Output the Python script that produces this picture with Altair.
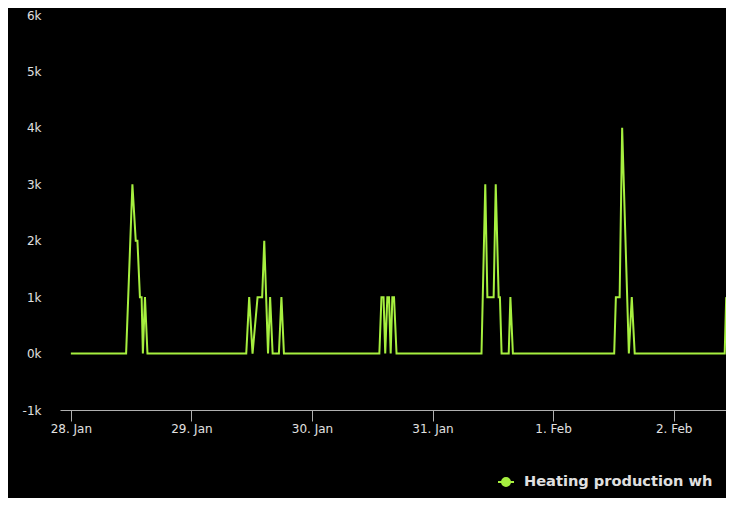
import altair as alt
import pandas as pd

# Timestamps (UTC) and heating production values (Wh)
times = [
    "2019-01-28T00:00", "2019-01-28T11:00", "2019-01-28T12:15", "2019-01-28T12:55",
    "2019-01-28T13:15", "2019-01-28T13:45", "2019-01-28T14:05", "2019-01-28T14:20",
    "2019-01-28T14:45", "2019-01-28T15:15",
    "2019-01-29T10:55", "2019-01-29T11:30", "2019-01-29T12:10", "2019-01-29T13:10",
    "2019-01-29T14:05", "2019-01-29T14:30", "2019-01-29T15:15", "2019-01-29T15:40",
    "2019-01-29T16:10", "2019-01-29T17:25", "2019-01-29T17:55", "2019-01-29T18:25",
    "2019-01-30T13:25", "2019-01-30T13:50", "2019-01-30T14:15", "2019-01-30T14:35",
    "2019-01-30T15:00", "2019-01-30T15:20", "2019-01-30T15:40", "2019-01-30T16:00",
    "2019-01-30T16:20", "2019-01-30T16:50",
    "2019-01-31T09:45", "2019-01-31T10:30", "2019-01-31T10:55", "2019-01-31T12:10",
    "2019-01-31T12:35", "2019-01-31T13:10", "2019-01-31T13:25", "2019-01-31T13:45",
    "2019-01-31T15:10", "2019-01-31T15:30", "2019-01-31T16:00",
    "2019-02-01T12:10", "2019-02-01T12:30", "2019-02-01T13:15", "2019-02-01T13:45",
    "2019-02-01T15:05", "2019-02-01T15:40", "2019-02-01T16:15",
    "2019-02-02T10:10", "2019-02-02T10:28",
]
values = [
    0, 0, 3000, 2000,
    2000, 1000, 1000, 0,
    1000, 0,
    0, 1000, 0, 1000,
    1000, 2000, 0, 1000,
    0, 0, 1000, 0,
    0, 1000, 1000, 0,
    1000, 1000, 0, 1000,
    1000, 0,
    0, 3000, 1000, 1000,
    3000, 1000, 1000, 0,
    0, 1000, 0,
    0, 1000, 1000, 4000,
    0, 1000, 0,
    0, 1000,
]
series_name = "Heating production wh"
y_ticks = [-1000, 0, 1000, 2000, 3000, 4000, 5000, 6000]
x_tick_days = [(1, 28), (1, 29), (1, 30), (1, 31), (2, 1), (2, 2)]

df = pd.DataFrame({
    "time": [t + ":00Z" for t in times],
    "value": values,
    "series": [series_name] * len(values),
})

LINE = "#a6ef3f"
LABEL = "#e0e0e0"
AXIS = "#b0b0b0"

x_domain = [
    alt.DateTime(year=2019, month=1, date=27, hours=21, minutes=50, seconds=10, utc=True),
    alt.DateTime(year=2019, month=2, date=2, hours=10, minutes=25, seconds=30, utc=True),
]
x_values = [alt.DateTime(year=2019, month=m, date=d, utc=True) for m, d in x_tick_days]

symbol_path = ("M-1,0L1,0"
               "M-0.5,0a0.5,0.5 0 1,0 1,0a0.5,0.5 0 1,0 -1,0"
               "M-0.3,0a0.3,0.3 0 1,0 0.6,0a0.3,0.3 0 1,0 -0.6,0"
               "M-0.12,0a0.12,0.12 0 1,0 0.24,0a0.12,0.12 0 1,0 -0.24,0")

chart = alt.Chart(df).mark_line(strokeWidth=2, clip=True).encode(
    x=alt.X(
        "time:T",
        title=None,
        scale=alt.Scale(type="utc", domain=x_domain, nice=False),
        axis=alt.Axis(
            values=x_values,
            labelExpr="utcFormat(datum.value, '%-d. %b')",
            grid=False,
            domain=True,
            domainColor=AXIS,
            domainWidth=1,
            ticks=True,
            tickColor=AXIS,
            tickSize=11,
            tickWidth=1,
            labelPadding=2,
            labelColor=LABEL,
            labelFont="DejaVu Sans",
            labelFontSize=12,
            labelFlush=False,
            labelOverlap=False,
        ),
    ),
    y=alt.Y(
        "value:Q",
        title=None,
        scale=alt.Scale(domain=[-1000, 6000], nice=False, zero=False),
        axis=alt.Axis(
            values=y_ticks,
            labelExpr="datum.value / 1000 + 'k'",
            grid=False,
            domain=False,
            ticks=False,
            tickSize=0,
            labelPadding=19,
            labelColor=LABEL,
            labelFont="DejaVu Sans",
            labelFontSize=12,
            labelOverlap=False,
        ),
    ),
    color=alt.Color(
        "series:N",
        scale=alt.Scale(domain=[series_name], range=[LINE]),
        legend=alt.Legend(
            title=None,
            orient="none",
            legendX=437,
            legendY=458,
            padding=0,
            symbolType=symbol_path,
            symbolSize=256,
            symbolStrokeWidth=2,
            symbolStrokeColor=LINE,
            symbolFillColor=LINE,
            labelOffset=9,
            labelColor=LABEL,
            labelFont="DejaVu Sans",
            labelFontSize=14.6,
            labelFontWeight="bold",
            labelLimit=400,
        ),
    ),
).properties(
    width=666,
    height=395,
    autosize=alt.AutoSizeParams(type="none"),
    padding={"left": 52, "top": 7, "right": 0, "bottom": 88},
).configure(
    background="#000000",
).configure_view(
    stroke=None,
)

chart.save("out.html", embed_options={"renderer": "svg", "actions": False})
